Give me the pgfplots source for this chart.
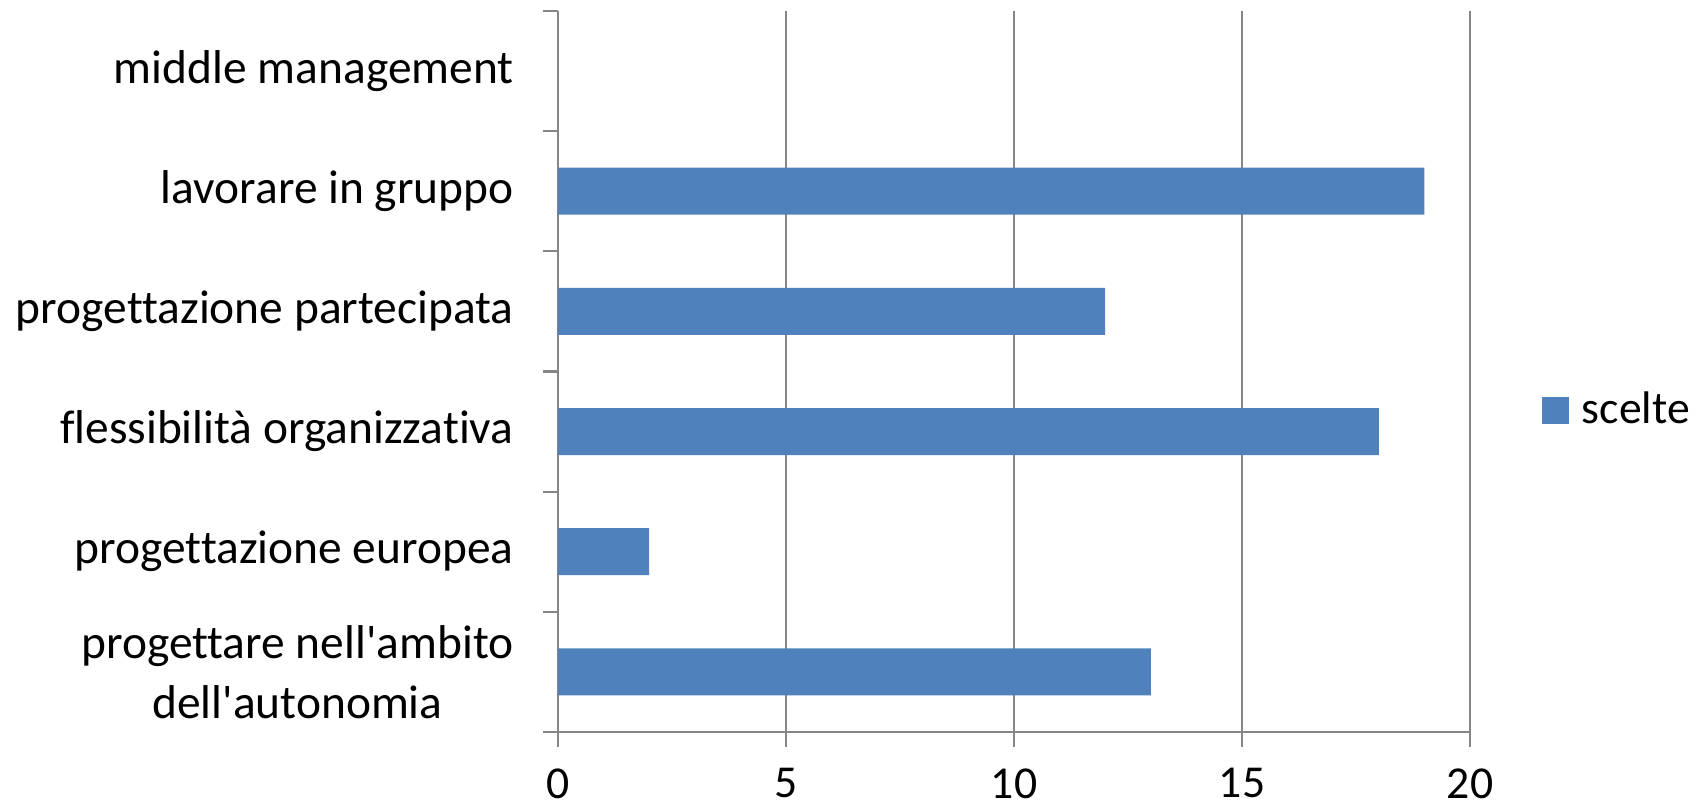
\documentclass[border=0pt]{standalone}
\usepackage{fontspec}
\setmainfont{Carlito}[Ligatures={TeXOff,CommonOff}]
\usepackage{pgfplots}
\pgfplotsset{compat=1.18}
\definecolor{barblue}{HTML}{4F81BD}
\definecolor{axgray}{HTML}{868686}
\begin{document}
\begin{tikzpicture}
\useasboundingbox (-5.58cm,-0.80cm) rectangle (11.49cm,7.32cm);
\begin{axis}[
  at={(0,0)}, anchor=south west,
  scale only axis, width=9.12cm, height=7.21cm,
  xbar, bar width=0.47cm, bar shift=0pt,
  xmin=0, xmax=20, ymin=-0.5, ymax=5.5,
  xtick={0,5,10,15,20},
  ytick={-0.5,0.5,1.5,2.5,3.5,4.5,5.5},
  yticklabels={,,,,,,},
  extra y ticks={0,1,2,3,4,5},
  extra y tick labels={{progettare nell'ambito\\dell'autonomia},progettazione europea,flessibilità organizzativa,progettazione partecipata,lavorare in gruppo,middle management},
  extra y tick style={major tick length=0pt},
  axis x line*=bottom, axis y line*=left,
  axis line style={draw=axgray, line width=0.6pt, -},
  tick style={draw=axgray, line width=0.6pt},
  major tick length=0.15cm, tick align=outside,
  xmajorgrids, grid style={draw=axgray, line width=0.6pt},
  /pgf/number format/assume math mode=true,
  xticklabel style={font=\fontsize{13}{15.9}\selectfont, yshift=-0.09cm},
  yticklabel style={align=center, font=\fontsize{13.5}{17}\selectfont, xshift=-0.32cm},
  legend style={draw=none, fill=none, at={(1.0789,0.4466)}, anchor=west,
    inner sep=0pt, outer sep=0pt, nodes={inner sep=0pt, font=\fontsize{13}{15.9}\selectfont}},
  legend image code/.code={\fill[barblue] (0cm,-0.135cm) rectangle (0.27cm,0.135cm); \path (0.40cm,0);},
]
\addplot[fill=barblue, draw=none] coordinates {(13,0) (2,1) (18,2) (12,3) (19,4) (0,5)};
\addlegendentry{scelte}
\end{axis}
\end{tikzpicture}
\end{document}
